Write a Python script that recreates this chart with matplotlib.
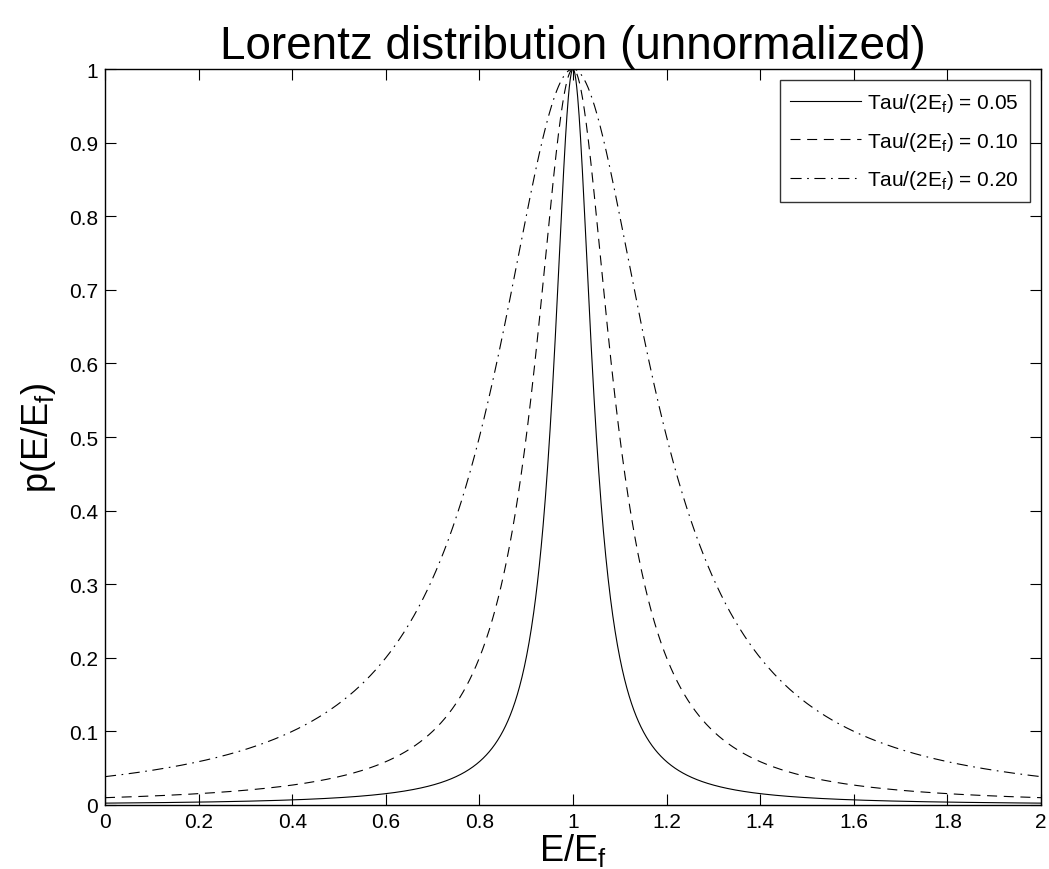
import numpy as np
import matplotlib
matplotlib.use("Agg")
import matplotlib.pyplot as plt

# widths: Tau/(2E_f)
widths = [0.05, 0.10, 0.20]
labels = ["Tau/(2E$_f$) = 0.05", "Tau/(2E$_f$) = 0.10", "Tau/(2E$_f$) = 0.20"]
styles = ["-", (0, (9, 6)), (0, (10, 5, 1.5, 5))]
x_ticks = [0, 0.2, 0.4, 0.6, 0.8, 1, 1.2, 1.4, 1.6, 1.8, 2]
y_ticks = [0, 0.1, 0.2, 0.3, 0.4, 0.5, 0.6, 0.7, 0.8, 0.9, 1]

plt.rcParams["font.family"] = ["Liberation Sans", "DejaVu Sans"]
plt.rcParams["mathtext.fontset"] = "custom"
plt.rcParams["mathtext.rm"] = "Liberation Sans"
plt.rcParams["mathtext.it"] = "Liberation Sans"
plt.rcParams["mathtext.default"] = "regular"

fig = plt.figure(figsize=(10.49, 8.7), dpi=100)
ax = fig.add_axes([0.1001, 0.0736, 0.8923, 0.8459])

E = np.linspace(0, 2, 2001)
for w, lab, ls in zip(widths, labels, styles):
    # unnormalized lorentzian, peak = 1 at E/Ef = 1
    p = 1.0 / (1.0 + ((E - 1.0) / w) ** 2)
    ax.plot(E, p, color="black", linestyle=ls, linewidth=0.8, label=lab)

ax.set_xlim(0, 2)
ax.set_ylim(0, 1)
ax.set_xticks(x_ticks)
ax.set_xticklabels([("%g" % t) for t in x_ticks])
ax.set_yticks(y_ticks)
ax.set_yticklabels([("%g" % t) for t in y_ticks])
ax.tick_params(direction="in", length=8, width=0.8, top=True, right=True,
               labelsize=15)
ax.tick_params(axis="x", pad=5)
ax.tick_params(axis="y", pad=5)
for s in ax.spines.values():
    s.set_linewidth(1.0)

ax.set_title("Lorentz distribution (unnormalized)", fontsize=33, pad=8)
ax.set_xlabel("E/E$_f$", fontsize=26, labelpad=0)
ax.set_ylabel("p(E/E$_f$)", fontsize=26, labelpad=8)

leg = ax.legend(loc="upper right", fontsize=15, frameon=True, fancybox=False,
                edgecolor="black", handlelength=3.4, handletextpad=0.3,
                borderpad=0.5, labelspacing=0.75, borderaxespad=0.55)
leg.get_frame().set_linewidth(1.0)

fig.savefig("out.png", dpi=100)
